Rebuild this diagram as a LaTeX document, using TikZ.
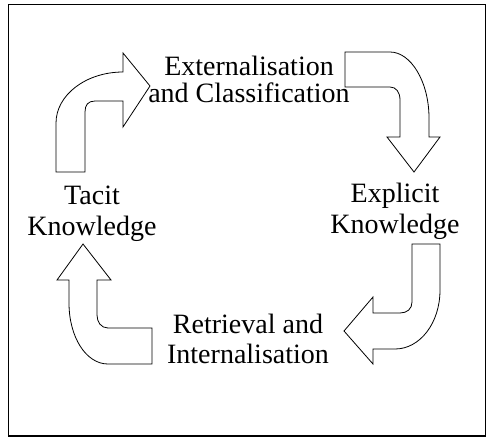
\documentclass[tikz,border=0pt]{standalone}
\usepackage{fontspec}
\setmainfont{Liberation Serif}
\begin{document}
\begin{tikzpicture}[x=1pt,y=-1pt,
  bendarrow/.style={draw=black,fill=white,line width=0.8pt,line join=miter},
  lbl/.style={align=center,inner sep=0pt,anchor=center}]
\useasboundingbox (0,0) rectangle (486,437);
\draw[line width=1.3pt] (8.5,4.5) rectangle (485.5,436);
% arrow 1 : up then right
\draw[bendarrow] (56,172) -- (56,123) .. controls (56,95) and (86,72) .. (123,72)
  -- (123,53) -- (150,86) -- (123,127) -- (123,101) -- (95,101)
  .. controls (88,101) and (85,105) .. (85,112) -- (85,172) -- cycle;
% arrow 2 : right then down
\draw[bendarrow] (345,52) -- (390,52) .. controls (411,52) and (429,82) .. (429,118)
  -- (429,137) -- (440,137) -- (414,172) -- (387,137) -- (400,137) -- (400,100)
  .. controls (400,92) and (396,87) .. (390,87) -- (345,87) -- cycle;
% arrow 3 : down then left
\draw[bendarrow] (412,244) -- (412,302) .. controls (412,309) and (407,313) .. (400,313)
  -- (373,313) -- (373,297) -- (344,331) -- (373,364) -- (373,349) -- (395,349)
  .. controls (420,349) and (440,323) .. (440,290) -- (440,244) -- cycle;
% arrow 4 : left then up
\draw[bendarrow] (152,328) -- (108,328) .. controls (101,328) and (97,322) .. (97,315)
  -- (97,280) -- (111,280) -- (83,244) -- (57,280) -- (69,280) -- (69,303)
  .. controls (69,337) and (86,364) .. (108,364) -- (152,364) -- cycle;
% labels
\node[lbl,font=\fontsize{28}{27}\selectfont] (ext) at (249,79) {Externalisation\\and Classification};
\node[lbl,font=\fontsize{28}{31}\selectfont] (exp) at (395,211.5) {Explicit\\Knowledge};
\node[lbl,font=\fontsize{28}{30}\selectfont] (ret) at (248,338.5) {Retrieval and\\Internalisation};
\node[lbl,font=\fontsize{28}{31}\selectfont] (tac) at (92,213.5) {Tacit\\Knowledge};
\end{tikzpicture}
\end{document}
